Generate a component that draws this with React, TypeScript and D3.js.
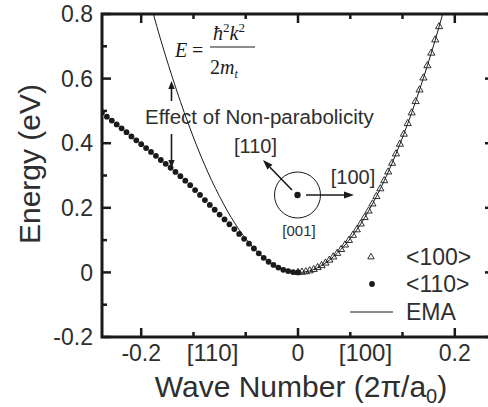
import React from "react";
import * as d3 from "d3";

const W = 488;
const H = 407;

// <110> band (filled circles), wave number in 2π/a0, energy in eV
const k110 = [
  -0.25, -0.24375, -0.2375, -0.23125, -0.225, -0.21875, -0.2125, -0.20625, -0.2, -0.19375,
  -0.1875, -0.18125, -0.175, -0.16875, -0.1625, -0.15625, -0.15, -0.14375, -0.1375, -0.13125,
  -0.125, -0.11875, -0.1125, -0.10625, -0.1, -0.09375, -0.0875, -0.08125, -0.075, -0.06875,
  -0.0625, -0.05625, -0.05, -0.04375, -0.0375, -0.03125, -0.025, -0.01875, -0.0125, -0.00625, 0,
];
const e110 = [
  0.495, 0.482, 0.47, 0.458, 0.446, 0.434, 0.421, 0.409, 0.397, 0.385,
  0.373, 0.361, 0.348, 0.336, 0.324, 0.311, 0.298, 0.284, 0.27, 0.255,
  0.24, 0.224, 0.209, 0.194, 0.179, 0.164, 0.149, 0.134, 0.119, 0.104,
  0.089, 0.074, 0.059, 0.045, 0.033, 0.023, 0.015, 0.008, 0.004, 0.001, 0,
];

// <100> band (open triangles)
const k100 = [
  0, 0.005, 0.01, 0.015, 0.02, 0.025, 0.03, 0.035, 0.04, 0.045,
  0.05, 0.055, 0.06, 0.065, 0.07, 0.075, 0.08, 0.085, 0.09, 0.095,
  0.1, 0.105, 0.11, 0.115, 0.12, 0.125, 0.13, 0.135, 0.14, 0.145,
  0.15, 0.155, 0.16, 0.165, 0.17, 0.175, 0.18,
];
const e100 = [
  0, 0.001, 0.002, 0.005, 0.009, 0.015, 0.021, 0.029, 0.038, 0.048,
  0.059, 0.071, 0.085, 0.099, 0.115, 0.132, 0.15, 0.17, 0.19, 0.212,
  0.235, 0.259, 0.284, 0.311, 0.338, 0.367, 0.397, 0.428, 0.461, 0.494,
  0.529, 0.565, 0.602, 0.64, 0.679, 0.72, 0.761,
];

// Effective-mass approximation curve
const kEma = [
  -0.19, -0.18, -0.17, -0.16, -0.15, -0.14, -0.13, -0.12, -0.11, -0.1,
  -0.09, -0.08, -0.07, -0.06, -0.05, -0.04, -0.03, -0.02, -0.01, 0,
  0.01, 0.02, 0.03, 0.04, 0.05, 0.06, 0.07, 0.08, 0.09, 0.1,
  0.11, 0.12, 0.13, 0.14, 0.15, 0.16, 0.17, 0.18, 0.19,
];
const eEma = [
  0.848, 0.761, 0.679, 0.602, 0.529, 0.461, 0.397, 0.338, 0.284, 0.235,
  0.19, 0.15, 0.115, 0.085, 0.059, 0.038, 0.021, 0.009, 0.002, 0,
  0.002, 0.009, 0.021, 0.038, 0.059, 0.085, 0.115, 0.15, 0.19, 0.235,
  0.284, 0.338, 0.397, 0.461, 0.529, 0.602, 0.679, 0.761, 0.848,
];

// Axis ticks
const yMajor = [-0.2, 0, 0.2, 0.4, 0.6, 0.8];
const yLabels = ["-0.2", "0", "0.2", "0.4", "0.6", "0.8"];
const yMinor = [-0.1, 0.1, 0.3, 0.5, 0.7];
const xMajor = [-0.2, 0, 0.2];
const xLabels = ["-0.2", "0", "0.2"];
const xMinor = [-0.1333, -0.0667, 0.0667, 0.1333];
const dirK = [-0.109, 0.086];
const dirText = ["[110]", "[100]"];

const legendNames = ["<100>", "<110>", "EMA"];

const SANS = "'Liberation Sans', Arial, sans-serif";
const SERIF = "'Liberation Serif', 'Times New Roman', serif";
const INK = "#1a1a1a";
const TXT = "#2e2e2e";

function Arrow({ x1, y1, x2, y2, head = 8, w = 3.2, sw = 1.6 }: any) {
  const a = Math.atan2(y2 - y1, x2 - x1);
  const bx = x2 - head * Math.cos(a);
  const by = y2 - head * Math.sin(a);
  const px = -Math.sin(a) * w;
  const py = Math.cos(a) * w;
  return (
    <g>
      <line x1={x1} y1={y1} x2={bx} y2={by} stroke={INK} strokeWidth={sw} />
      <polygon points={`${x2},${y2} ${bx + px},${by + py} ${bx - px},${by - py}`} fill={INK} />
    </g>
  );
}

export default function App() {
  const x = d3.scaleLinear().domain([-0.25, 0.25]).range([102, 494]);
  const y = d3.scaleLinear().domain([-0.2, 0.8]).range([337, 14]);
  const [x0, x1] = x.range();
  const [y0, y1] = y.range();

  const emaPath = d3
    .line<number>()
    .x((_, i) => x(kEma[i]))
    .y((_, i) => y(eEma[i]))
    .curve(d3.curveNatural)(eEma) as string;

  const tri = d3.symbol().type(d3.symbolTriangle).size(22)() as string;
  const triLegend = d3.symbol().type(d3.symbolTriangle).size(18)() as string;

  return (
    <svg width={W} height={H} style={{ position: "absolute", left: 0, top: 0, background: "#fff" }}>
      <defs>
        <clipPath id="plotClip">
          <rect x={x0} y={y1} width={x1 - x0} height={y0 - y1} />
        </clipPath>
      </defs>
      <rect x={0} y={0} width={W} height={H} fill="#fff" />

      {/* data */}
      <g clipPath="url(#plotClip)">
        <path d={emaPath} fill="none" stroke={INK} strokeWidth={1} />
        {k100.map((k, i) => (
          <path key={"t" + i} d={tri} transform={`translate(${x(k)},${y(e100[i])})`} fill="none" stroke={INK} strokeWidth={0.9} />
        ))}
        {k110.map((k, i) => (
          <circle key={"c" + i} cx={x(k)} cy={y(e110[i])} r={2.9} fill={INK} />
        ))}
      </g>

      {/* frame */}
      <rect x={x0} y={y1} width={x1 - x0} height={y0 - y1} fill="none" stroke={INK} strokeWidth={3} />

      {/* y ticks */}
      {yMajor.map((v) => (
        <g key={"ym" + v}>
          <line x1={x0} x2={x0 + 9} y1={y(v)} y2={y(v)} stroke={INK} strokeWidth={2.5} />
          <line x1={x1} x2={x1 - 9} y1={y(v)} y2={y(v)} stroke={INK} strokeWidth={2.5} />
        </g>
      ))}
      {yMinor.map((v) => (
        <g key={"yn" + v}>
          <line x1={x0} x2={x0 + 5} y1={y(v)} y2={y(v)} stroke={INK} strokeWidth={2.5} />
          <line x1={x1} x2={x1 - 5} y1={y(v)} y2={y(v)} stroke={INK} strokeWidth={2.5} />
        </g>
      ))}
      {yMajor.map((v, i) => (
        <text key={"yl" + v} x={93} y={y(v)} dy="0.36em" textAnchor="end" fontFamily={SANS} fontSize={23} fill={TXT}>
          {yLabels[i]}
        </text>
      ))}

      {/* x ticks */}
      {xMajor.map((v) => (
        <g key={"xm" + v}>
          <line x1={x(v)} x2={x(v)} y1={y0} y2={y0 - 9} stroke={INK} strokeWidth={2.5} />
          <line x1={x(v)} x2={x(v)} y1={y1} y2={y1 + 9} stroke={INK} strokeWidth={2.5} />
        </g>
      ))}
      {xMinor.map((v) => (
        <g key={"xn" + v}>
          <line x1={x(v)} x2={x(v)} y1={y0} y2={y0 - 5} stroke={INK} strokeWidth={2.5} />
          <line x1={x(v)} x2={x(v)} y1={y1} y2={y1 + 5} stroke={INK} strokeWidth={2.5} />
        </g>
      ))}
      {xMajor.map((v, i) => (
        <text key={"xl" + v} x={x(v)} y={361} textAnchor="middle" fontFamily={SANS} fontSize={23} fill={TXT}>
          {xLabels[i]}
        </text>
      ))}
      {dirK.map((v, i) => (
        <text key={"dl" + i} x={x(v)} y={361} textAnchor="middle" fontFamily={SANS} fontSize={24} fill={TXT}>
          {dirText[i]}
        </text>
      ))}

      {/* axis titles */}
      <text x={301} y={397} textAnchor="middle" fontFamily={SANS} fontSize={30} fill={TXT}>
        Wave Number (2π/a
        <tspan fontSize={20} dy={6}>0</tspan>
        <tspan dy={-6}>)</tspan>
      </text>
      <text transform="translate(40,164) rotate(-90)" textAnchor="middle" fontFamily={SANS} fontSize={30} fill={TXT}>
        Energy (eV)
      </text>

      {/* EMA formula */}
      <g fontFamily={SERIF} fill={INK}>
        <text x={175} y={57} fontSize={20} fontStyle="italic">E</text>
        <text x={192} y={57} fontSize={20}>=</text>
        <line x1={210} x2={255} y1={47} y2={47} stroke={INK} strokeWidth={1.2} />
        <text x={213} y={40} fontSize={20}>
          <tspan fontStyle="italic">ħ</tspan>
          <tspan fontSize={13} dy={-8}>2</tspan>
          <tspan fontStyle="italic" dy={8}>k</tspan>
          <tspan fontSize={13} dy={-8}>2</tspan>
        </text>
        <text x={210} y={74} fontSize={20}>
          2<tspan fontStyle="italic">m</tspan>
          <tspan fontSize={12} fontStyle="italic" dy={4}>t</tspan>
        </text>
      </g>

      {/* non-parabolicity annotation */}
      <text x={145} y={124} fontFamily={SANS} fontSize={20.5} fill={TXT}>
        Effect of Non-parabolicity
      </text>
      <Arrow x1={171.5} y1={101} x2={171.5} y2={81} />
      <Arrow x1={171.5} y1={134} x2={171.5} y2={168} />

      {/* crystal direction sketch */}
      <text x={255.5} y={153} textAnchor="middle" fontFamily={SANS} fontSize={20} fill={TXT}>[110]</text>
      <text x={353} y={184} textAnchor="middle" fontFamily={SANS} fontSize={20} fill={TXT}>[100]</text>
      <text x={299} y={236} textAnchor="middle" fontFamily={SANS} fontSize={15} fill={TXT}>[001]</text>
      <circle cx={297.5} cy={195} r={23} fill="none" stroke={INK} strokeWidth={1} />
      <circle cx={297.5} cy={195} r={3.2} fill={INK} />
      <Arrow x1={306} y1={195} x2={354} y2={195} head={10} w={3.5} />
      <Arrow x1={292} y1={190} x2={263} y2={160} head={10} w={3.5} />

      {/* legend */}
      <g fontFamily={SANS} fontSize={23} fill={TXT}>
        <path d={triLegend} transform="translate(371,257)" fill="none" stroke={INK} strokeWidth={0.9} />
        <text x={406} y={257} dy="0.36em">{legendNames[0]}</text>
        <circle cx={372} cy={284} r={2.9} fill={INK} />
        <text x={406} y={284} dy="0.36em">{legendNames[1]}</text>
        <line x1={350} x2={393} y1={312} y2={312} stroke={INK} strokeWidth={1} />
        <text x={406} y={312} dy="0.36em">{legendNames[2]}</text>
      </g>
    </svg>
  );
}
